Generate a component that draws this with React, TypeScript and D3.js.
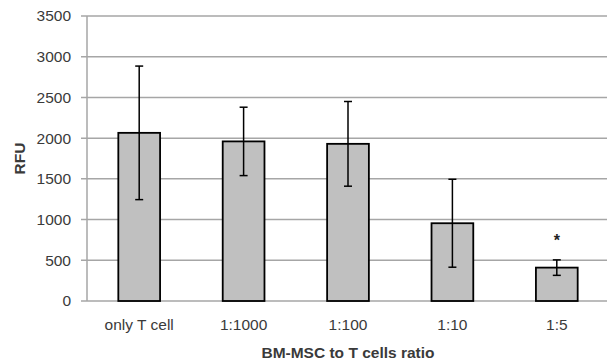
import React from 'react';
import { scaleBand, scaleLinear } from 'd3';

// values
const categories = ['only T cell', '1:1000', '1:100', '1:10', '1:5'];
const means = [2065, 1960, 1930, 955, 410];
const errors = [820, 420, 520, 540, 95];
const significant = [false, false, false, false, true];
const yTicks = [0, 500, 1000, 1500, 2000, 2500, 3000, 3500];

const width = 607,
    height = 362,
    left = 87,
    right = 609,
    top = 16,
    bottom = 301;

const font = '"Liberation Sans", Arial, sans-serif';
const textColor = '#3a3a3a';
const fs = 15.5;

export default function App() {
    const x = scaleBand().domain(categories).range([left, right]).paddingInner(0.6).paddingOuter(0.3);
    const y = scaleLinear().domain([0, 3500]).range([bottom, top]);
    const bw = x.bandwidth();
    const cap = 4;

    return (
        <svg width={width} height={height} style={{ position: 'absolute', left: 0, top: 0, background: '#fff' }}>
            {/* gridlines */}
            {yTicks.map((t) => (
                <line key={'g' + t} x1={left - 6} x2={right} y1={y(t)} y2={y(t)} stroke='#a6a6a6' strokeWidth={1.5} />
            ))}
            <line x1={left} x2={left} y1={top} y2={bottom} stroke='#a6a6a6' strokeWidth={1.5} />
            {yTicks.map((t) => (
                <text key={'t' + t} x={left - 16} y={y(t)} dy='0.35em' textAnchor='end'
                    fontFamily={font} fontSize={fs} fill={textColor}>{t}</text>
            ))}

            {categories.map((c, i) => {
                const cx = x(c)! + bw / 2;
                const hi = y(means[i] + errors[i]);
                const lo = y(means[i] - errors[i]);
                return (
                    <g key={c}>
                        <rect x={x(c)} y={y(means[i])} width={bw} height={bottom - y(means[i])}
                            fill='#c0c0c0' stroke='#000' strokeWidth={1.8} />
                        <line x1={cx} x2={cx} y1={hi} y2={lo} stroke='#000' strokeWidth={1.5} />
                        <line x1={cx - cap} x2={cx + cap} y1={hi} y2={hi} stroke='#000' strokeWidth={1.5} />
                        <line x1={cx - cap} x2={cx + cap} y1={lo} y2={lo} stroke='#000' strokeWidth={1.5} />
                        {significant[i] && (
                            <text x={cx} y={y(means[i] + errors[i]) - 14} textAnchor='middle'
                                fontFamily={font} fontSize={16} fontWeight='bold' fill='#222'>*</text>
                        )}
                        <text x={cx} y={330} textAnchor='middle' fontFamily={font} fontSize={fs} fill={textColor}>{c}</text>
                    </g>
                );
            })}

            <text x={(left + right) / 2} y={358} textAnchor='middle' fontFamily={font} fontSize={fs}
                fontWeight='bold' fill={textColor}>BM-MSC  to T cells ratio</text>
            <text transform={`translate(25,${(top + bottom) / 2}) rotate(-90)`} textAnchor='middle'
                fontFamily={font} fontSize={fs} fontWeight='bold' fill={textColor}>RFU</text>
        </svg>
    );
}
